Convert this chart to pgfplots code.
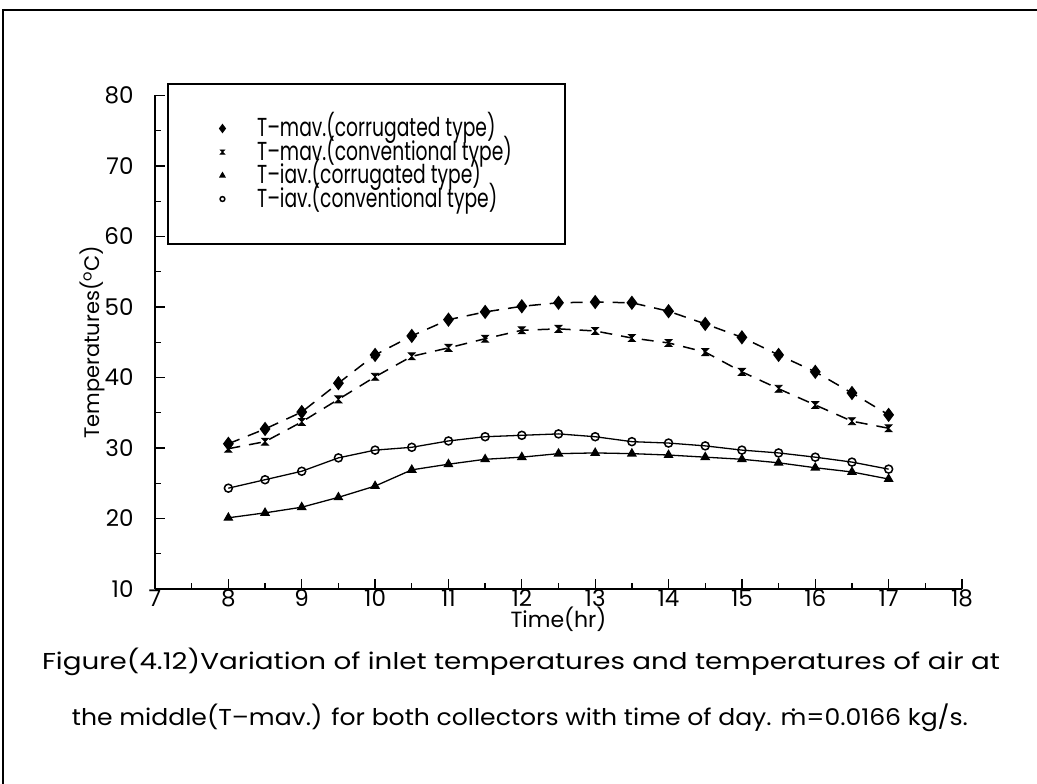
\documentclass[border=0pt]{standalone}
\usepackage{pgfplots}
\pgfplotsset{compat=1.18}
\usepackage{graphicx}
\usepackage{fontspec}
\setmainfont{Poppins}
\newfontfamily\legfont{Poppins}[FakeStretch=0.72, Ligatures=TeX]
\pgfdeclareplotmark{hourglass}{%
  \pgfpathmoveto{\pgfqpoint{-\pgfplotmarksize}{\pgfplotmarksize}}%
  \pgfpathlineto{\pgfqpoint{\pgfplotmarksize}{\pgfplotmarksize}}%
  \pgfpathlineto{\pgfqpoint{-\pgfplotmarksize}{-\pgfplotmarksize}}%
  \pgfpathlineto{\pgfqpoint{\pgfplotmarksize}{-\pgfplotmarksize}}%
  \pgfpathclose
  \pgfusepathqfillstroke}
\newcommand{\mdot}{\ooalign{m\cr\hidewidth\raisebox{0.62em}{.}\hidewidth\cr}}
\begin{document}
\begin{tikzpicture}[x=1pt,y=1pt]
\useasboundingbox (0,0) rectangle (1037,784);
\draw[line width=1.2pt] (3,0) -- (3,774) -- (1037,774);
\begin{axis}[
  at={(155pt,195pt)}, anchor=south west,
  scale only axis, width=807pt, height=493.5pt,
  xmin=7, xmax=18, ymin=10, ymax=80,
  axis x line=bottom, axis y line=left,
  axis line style={-, line width=1.6pt},
  xtick={7,...,18}, ytick={10,20,...,80},
  minor x tick num=1, minor y tick num=1,
  tick align=inside,
  major tick length=10pt, minor tick length=6pt,
  every tick/.style={black, line width=1.3pt},
  /pgf/number format/assume math mode=true,
  ticklabel style={font=\fontsize{23}{26}\selectfont},
  xticklabel style={yshift=3pt},
  yticklabel style={xshift=-18pt},
  xlabel={Time(hr)},
  ylabel={Temperatures(\textsuperscript{o}C)},
  xlabel style={font=\fontsize{22}{24}\selectfont, at={(axis description cs:0.5,-0.062)}, anchor=center},
  ylabel style={font=\fontsize{21}{23}\selectfont, at={(axis description cs:-0.078,0.50)}, anchor=center},
  clip=false,
  legend cell align=left,
  legend image post style={only marks, every mark/.append style={scale=0.6}},
  legend style={at={(axis description cs:0.0149,1.0253)}, anchor=north west,
    draw=black, line width=1.5pt, font=\legfont\fontsize{26}{26}\selectfont,
    inner xsep=52pt, inner ysep=33pt,
    nodes={inner sep=1pt, text height=19pt, text depth=2.5pt},
    column sep=31pt, row sep=0pt},
]
\addplot[black, line width=1.5pt, dash pattern=on 12pt off 9pt, mark=diamond*, mark size=6pt, mark options={solid}]
coordinates {(8,30.6) (8.5,32.7) (9,35.1) (9.5,39.2) (10,43.2) (10.5,45.9) (11,48.2) (11.5,49.3) (12,50.1) (12.5,50.6) (13,50.7) (13.5,50.6) (14,49.4) (14.5,47.6) (15,45.7) (15.5,43.2) (16,40.8) (16.5,37.8) (17,34.7)};
\addlegendentry{T--mav.(corrugated type)}
\addplot[black, line width=1.5pt, dash pattern=on 12pt off 9pt, mark=hourglass, mark size=3.5pt, mark options={solid, line width=0.8pt}]
coordinates {(8,29.9) (8.5,30.9) (9,33.7) (9.5,36.9) (10,40.1) (10.5,43.0) (11,44.2) (11.5,45.5) (12,46.7) (12.5,46.9) (13,46.6) (13.5,45.6) (14,44.9) (14.5,43.6) (15,40.8) (15.5,38.4) (16,36.1) (16.5,33.8) (17,32.8)};
\addlegendentry{T--mav.(conventional type)}
\addplot[black, line width=1.3pt, mark=triangle*, mark size=4.5pt]
coordinates {(8,20.1) (8.5,20.8) (9,21.6) (9.5,23.0) (10,24.6) (10.5,26.9) (11,27.7) (11.5,28.4) (12,28.7) (12.5,29.2) (13,29.3) (13.5,29.2) (14,29.0) (14.5,28.7) (15,28.4) (15.5,27.9) (16,27.2) (16.5,26.6) (17,25.6)};
\addlegendentry{T--iav.(corrugated type)}
\addplot[black, line width=1.3pt, mark=o, mark size=4pt, mark options={fill=white, line width=1.5pt}]
coordinates {(8,24.3) (8.5,25.5) (9,26.7) (9.5,28.6) (10,29.7) (10.5,30.1) (11,31.0) (11.5,31.6) (12,31.8) (12.5,32.0) (13,31.6) (13.5,30.9) (14,30.7) (14.5,30.3) (15,29.7) (15.5,29.3) (16,28.7) (16.5,28.0) (17,27.0)};
\addlegendentry{T--iav.(conventional type)}
\end{axis}
\node[anchor=center, inner sep=0pt] at (521,122) {\resizebox{958pt}{\height}{\fontsize{23}{26}\selectfont Figure(4.12)Variation of inlet temperatures and temperatures of air at}};
\node[anchor=center, inner sep=0pt] at (520,66) {\resizebox{896pt}{\height}{\fontsize{23}{26}\selectfont the middle(T--mav.) for both collectors with time of day. \mdot=0.0166 kg/s.}};
\end{tikzpicture}
\end{document}
